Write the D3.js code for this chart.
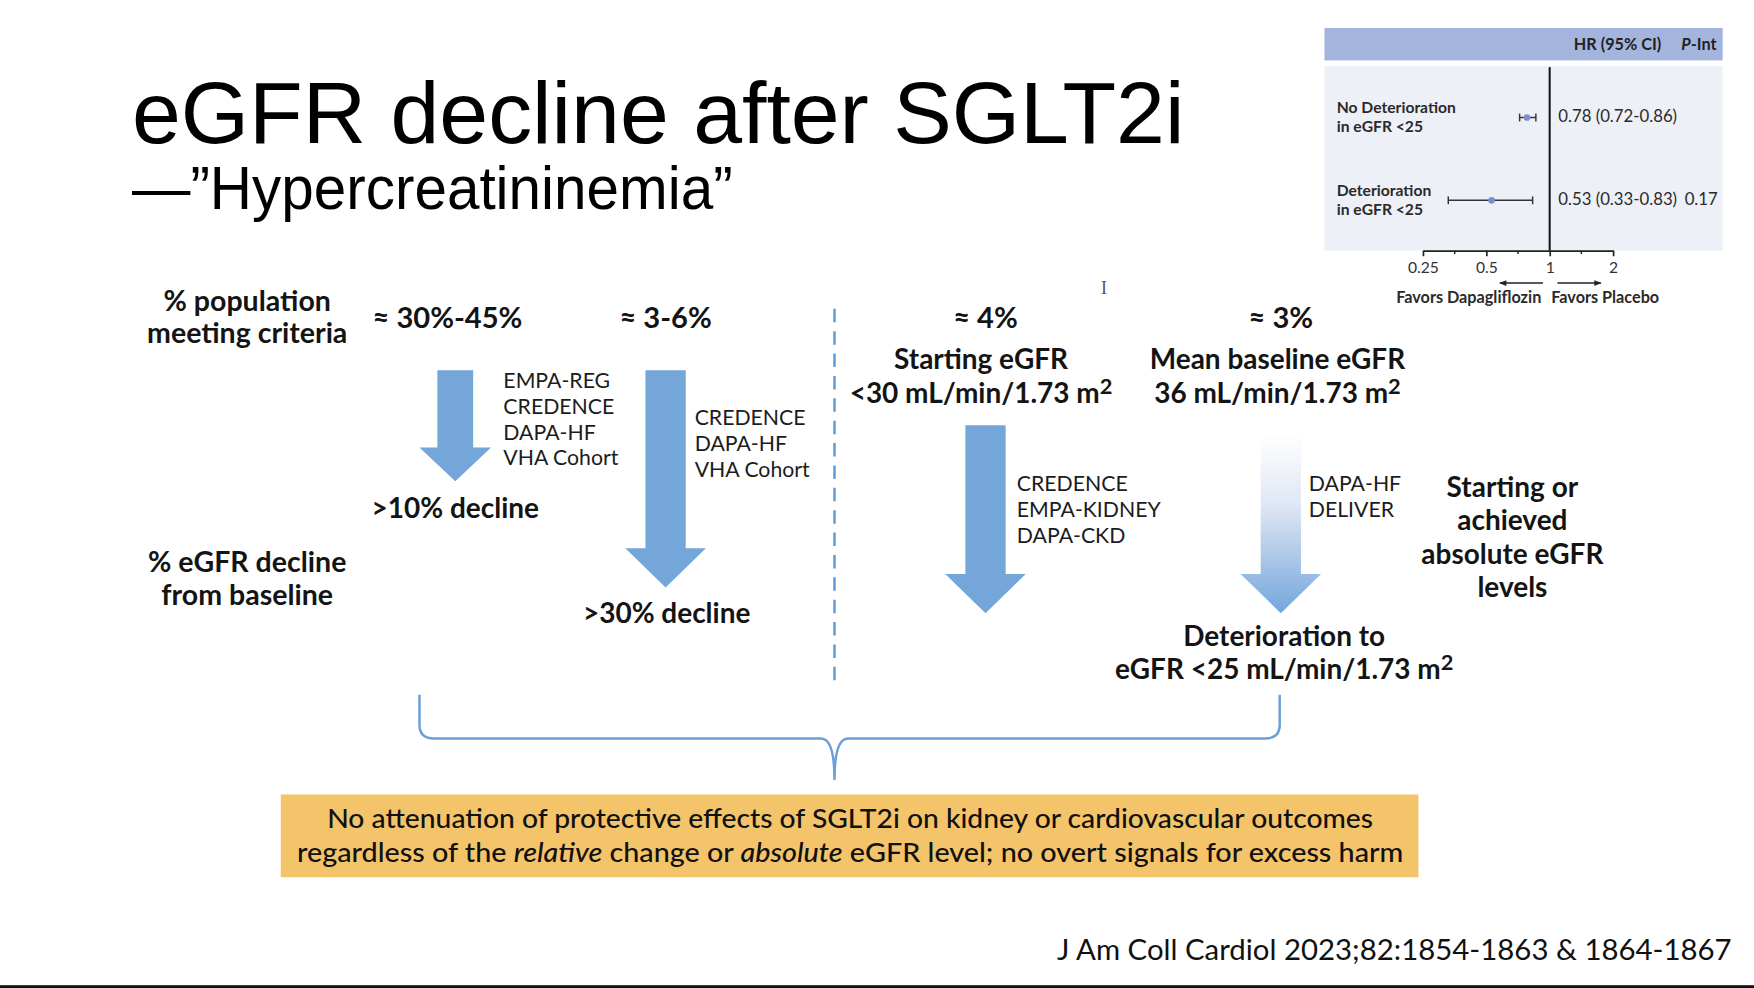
<!DOCTYPE html>
<html>
<head>
<meta charset="utf-8">
<script src="https://cdn.jsdelivr.net/npm/d3@7"></script>
<style>
  html, body { margin: 0; padding: 0; background: #fff; }
  svg { display: block; }
</style>
</head>
<body>
<svg></svg>
<script>
// slide drawn in a 1568x883 frame, scaled up to the window
const W = 1568;
const H = 883;

// ---- data ----
const title = 'eGFR decline after SGLT2i';
const subtitle = '\u2014\u201dHypercreatininemia\u201d';

const rowLabels = [['% population', 'meeting criteria'], ['% eGFR decline', 'from baseline']];
const shares = ['\u2248 30%-45%', '\u2248 3-6%', '\u2248 4%', '\u2248 3%'];
const trials = [
  ['EMPA-REG', 'CREDENCE', 'DAPA-HF', 'VHA Cohort'],
  ['CREDENCE', 'DAPA-HF', 'VHA Cohort'],
  ['CREDENCE', 'EMPA-KIDNEY', 'DAPA-CKD'],
  ['DAPA-HF', 'DELIVER']
];
const declines = ['>10% decline', '>30% decline'];
const startLabels = [['Starting eGFR', '<30 mL/min/1.73 m\u00b2'], ['Mean baseline eGFR', '36 mL/min/1.73 m\u00b2']];
const endLabel = ['Deterioration to', 'eGFR <25 mL/min/1.73 m\u00b2'];
const sideLabel = ['Starting or', 'achieved', 'absolute eGFR', 'levels'];
const citation = 'J Am Coll Cardiol 2023;82:1854-1863 & 1864-1867';

// forest plot inset
const subgroups = [['No Deterioration', 'in eGFR <25'], ['Deterioration', 'in eGFR <25']];
const hr = [0.78, 0.53];
const ciLow = [0.72, 0.33];
const ciHigh = [0.86, 0.83];
const hrText = ['0.78 (0.72-0.86)', '0.53 (0.33-0.83)'];
const pInt = ['', '0.17'];
const hrTicks = [0.25, 0.5, 1, 2];
const hrMinorTicks = [0.354, 0.707, 1.414];

// ---- layout ----
const svg = d3.select('svg')
  .attr('width', 1754)
  .attr('height', 988)
  .attr('viewBox', `0 0 ${W} ${H}`)
  .attr('preserveAspectRatio', 'none');

const SANS = 'Lato, "Open Sans", sans-serif';
const ARIAL = '"Liberation Sans", Arial, sans-serif';
const blue = '#74a6da';
const ink = '#141414';

const defs = svg.append('defs');
const grad = defs.append('linearGradient')
  .attr('id', 'fade').attr('x1', 0).attr('y1', 0).attr('x2', 0).attr('y2', 1);
grad.append('stop').attr('offset', '0%').attr('stop-color', '#ffffff');
grad.append('stop').attr('offset', '40%').attr('stop-color', '#dfe6f5');
grad.append('stop').attr('offset', '100%').attr('stop-color', blue);

// title
svg.append('text')
  .attr('x', 118).attr('y', 128)
  .attr('font-family', ARIAL).attr('font-size', 78.5)
  .attr('fill', '#000')
  .text(title);

svg.append('text')
  .attr('x', 118).attr('y', 187)
  .attr('font-family', ARIAL).attr('font-size', 54)
  .attr('textLength', 537).attr('lengthAdjust', 'spacingAndGlyphs')
  .attr('fill', '#000')
  .text(subtitle);

// multi-line text; a trailing "²" is set as a raised 2
function lines(g, arr, x, y0, step, opts) {
  const t = g.append('text')
    .attr('font-family', SANS)
    .attr('font-size', opts.size)
    .attr('font-weight', opts.weight || 'normal')
    .attr('text-anchor', opts.anchor || 'middle')
    .attr('fill', opts.fill || ink);
  t.selectAll('tspan.line')
    .data(arr)
    .join('tspan')
      .attr('class', 'line')
      .attr('x', x)
      .attr('y', (d, i) => y0 + i * step)
      .each(function(d) {
        const sel = d3.select(this);
        if (d.endsWith('\u00b2')) {
          sel.append('tspan').text(d.slice(0, -1));
          sel.append('tspan')
            .attr('dy', -opts.size * 0.32)
            .attr('font-size', opts.size * 0.78)
            .text('2');
        } else {
          sel.text(d);
        }
      });
  return t;
}

const diagram = svg.append('g');

// row headers
lines(diagram, rowLabels[0], 221, 278, 29, { size: 25.5, weight: 'bold' });
lines(diagram, rowLabels[1], 221, 511, 30, { size: 25.5, weight: 'bold' });

// columns
const colX = [400, 595, 881, 1145];
diagram.selectAll('text.share')
  .data(shares)
  .join('text')
    .attr('class', 'share')
    .attr('x', (d, i) => colX[i])
    .attr('y', 293)
    .attr('text-anchor', 'middle')
    .attr('font-family', SANS).attr('font-size', 26).attr('font-weight', 'bold')
    .attr('fill', ink)
    .text(d => d);

// arrows
const arrowX = [407, 595, 881, 1145];
const arrows = [
  { top: 331, neck: 400, tip: 430, sw: 16, hw: 32, fill: blue },
  { top: 331, neck: 490, tip: 525, sw: 18, hw: 36, fill: blue },
  { top: 380, neck: 513, tip: 548, sw: 18, hw: 36, fill: blue },
  { top: 388, neck: 513, tip: 548, sw: 18, hw: 36, fill: 'url(#fade)' }
];
function arrowPath(cx, a) {
  const p = d3.path();
  p.moveTo(cx - a.sw, a.top);
  p.lineTo(cx + a.sw, a.top);
  p.lineTo(cx + a.sw, a.neck);
  p.lineTo(cx + a.hw, a.neck);
  p.lineTo(cx, a.tip);
  p.lineTo(cx - a.hw, a.neck);
  p.lineTo(cx - a.sw, a.neck);
  p.closePath();
  return p.toString();
}
diagram.selectAll('path.arrow')
  .data(arrows)
  .join('path')
    .attr('class', 'arrow')
    .attr('d', (d, i) => arrowPath(arrowX[i], d))
    .attr('fill', d => d.fill);

// trial names beside arrows
const trialPos = [[450, 347], [621, 380], [909, 439], [1170, 439]];
trials.forEach((names, i) => {
  lines(diagram, names, trialPos[i][0], trialPos[i][1], 23,
    { size: 19, anchor: 'start', fill: '#1c1c1c' });
});

// decline thresholds
lines(diagram, [declines[0]], 407, 463, 0, { size: 25, weight: 'bold' });
lines(diagram, [declines[1]], 596, 557, 0, { size: 25, weight: 'bold' });

// absolute eGFR columns
lines(diagram, startLabels[0], 877, 330, 30, { size: 25, weight: 'bold' });
lines(diagram, startLabels[1], 1142, 330, 30, { size: 25, weight: 'bold' });
lines(diagram, endLabel, 1148, 577, 30, { size: 25, weight: 'bold' });
lines(diagram, sideLabel, 1352, 444, 30, { size: 25, weight: 'bold' });

// dashed divider
diagram.append('line')
  .attr('x1', 746).attr('x2', 746)
  .attr('y1', 276).attr('y2', 614)
  .attr('stroke', '#5b9bd5').attr('stroke-width', 2.2)
  .attr('stroke-dasharray', '12,8');

// brace
diagram.append('path')
  .attr('d', 'M375,621 L375,648 Q375,660 388,660 L734,660 Q746,660 746,697 Q746,660 758,660 L1131,660 Q1144,660 1144,648 L1144,621')
  .attr('fill', 'none')
  .attr('stroke', '#6a9fd8').attr('stroke-width', 2.2);

// conclusion box
diagram.append('rect')
  .attr('x', 251).attr('y', 710)
  .attr('width', 1017).attr('height', 74)
  .attr('fill', '#f4c46b');

diagram.append('text')
  .attr('x', 760).attr('y', 740)
  .attr('text-anchor', 'middle')
  .attr('font-family', SANS).attr('font-size', 24).attr('font-weight', 500)
  .attr('textLength', 935).attr('lengthAdjust', 'spacingAndGlyphs')
  .attr('fill', '#111')
  .text('No attenuation of protective effects of SGLT2i on kidney or cardiovascular outcomes');

const line2 = diagram.append('text')
  .attr('x', 760).attr('y', 770)
  .attr('text-anchor', 'middle')
  .attr('font-family', SANS).attr('font-size', 24).attr('font-weight', 500)
  .attr('textLength', 989).attr('lengthAdjust', 'spacingAndGlyphs')
  .attr('fill', '#111');
[['regardless of the ', 'normal'], ['relative', 'italic'], [' change or ', 'normal'],
 ['absolute', 'italic'], [' eGFR level; no overt signals for excess harm', 'normal']]
  .forEach(([s, st]) => line2.append('tspan').attr('font-style', st).text(s));

// citation
svg.append('text')
  .attr('x', 1548).attr('y', 858)
  .attr('text-anchor', 'end')
  .attr('font-family', SANS).attr('font-size', 25)
  .attr('textLength', 603).attr('lengthAdjust', 'spacingAndGlyphs')
  .attr('fill', '#111')
  .text(citation);

// text cursor left in the screenshot
svg.append('text')
  .attr('x', 987).attr('y', 263)
  .attr('text-anchor', 'middle')
  .attr('font-family', '"Liberation Serif", serif').attr('font-size', 16)
  .attr('fill', '#555')
  .text('I');

// bottom edge
svg.append('rect')
  .attr('x', 0).attr('y', 880.5).attr('width', W).attr('height', 3)
  .attr('fill', '#111');

// ---- forest plot ----
const fp = svg.append('g').attr('font-family', SANS);
const x = d3.scaleLog().base(2).domain([0.25, 2]).range([1272, 1442]);
const y = d3.scalePoint().domain(d3.range(hr.length)).range([105, 179]);

fp.append('rect').attr('x', 1184).attr('y', 25).attr('width', 356).attr('height', 29).attr('fill', '#a4b5dd');
fp.append('rect').attr('x', 1184).attr('y', 59).attr('width', 356).attr('height', 165).attr('fill', '#eef0f7');

fp.append('text')
  .attr('x', 1446).attr('y', 45).attr('text-anchor', 'middle')
  .attr('font-size', 14.5).attr('font-weight', 'bold').attr('fill', '#222')
  .text('HR (95% CI)');
const pHead = fp.append('text')
  .attr('x', 1503).attr('y', 45)
  .attr('font-size', 14.5).attr('font-weight', 'bold').attr('fill', '#222');
pHead.append('tspan').attr('font-style', 'italic').text('P');
pHead.append('tspan').text('-Int');

subgroups.forEach((lab, i) => {
  lines(fp, lab, 1195, y(i) - 4, 17, { size: 14, weight: 'bold', anchor: 'start', fill: '#2a2a2a' });
});

// reference line at HR = 1
fp.append('line')
  .attr('x1', x(1)).attr('x2', x(1))
  .attr('y1', 60).attr('y2', 224)
  .attr('stroke', '#111').attr('stroke-width', 1.8);

const rows = fp.selectAll('g.row')
  .data(hr.map((v, i) => ({ v, lo: ciLow[i], hi: ciHigh[i], i })))
  .join('g').attr('class', 'row');
rows.append('line')
  .attr('x1', d => x(d.lo)).attr('x2', d => x(d.hi))
  .attr('y1', d => y(d.i)).attr('y2', d => y(d.i))
  .attr('stroke', '#333').attr('stroke-width', 1.3);
rows.selectAll('line.cap')
  .data(d => [d.lo, d.hi].map(c => ({ c, i: d.i })))
  .join('line').attr('class', 'cap')
    .attr('x1', d => x(d.c)).attr('x2', d => x(d.c))
    .attr('y1', d => y(d.i) - 3.5).attr('y2', d => y(d.i) + 3.5)
    .attr('stroke', '#333').attr('stroke-width', 1.3);
rows.append('circle')
  .attr('cx', d => x(d.v)).attr('cy', d => y(d.i))
  .attr('r', 3)
  .attr('fill', '#7b8fcf');

fp.selectAll('text.hr')
  .data(hrText)
  .join('text').attr('class', 'hr')
    .attr('x', 1393).attr('y', (d, i) => y(i) + 4)
    .attr('font-size', 15).attr('fill', '#2a2a2a')
    .text(d => d);
fp.selectAll('text.p')
  .data(pInt)
  .join('text').attr('class', 'p')
    .attr('x', 1506).attr('y', (d, i) => y(i) + 4)
    .attr('font-size', 15).attr('fill', '#2a2a2a')
    .text(d => d);

const axis = fp.append('g')
  .attr('transform', 'translate(0,224)')
  .call(d3.axisBottom(x).tickValues(hrTicks).tickSize(5).tickSizeOuter(0).tickFormat(d => String(d)));
axis.select('.domain').attr('stroke', '#222').attr('stroke-width', 1.5);
axis.selectAll('.tick line').attr('stroke', '#222').attr('stroke-width', 1.5);
axis.selectAll('.tick text')
  .attr('font-family', SANS).attr('font-size', 14).attr('fill', '#333')
  .attr('y', 10).attr('dy', '0.71em');
axis.selectAll('line.minor')
  .data(hrMinorTicks)
  .join('line').attr('class', 'minor')
    .attr('x1', d => x(d)).attr('x2', d => x(d))
    .attr('y1', 0).attr('y2', 3)
    .attr('stroke', '#222').attr('stroke-width', 1.3);

// direction arrows
const marker = defs.append('marker')
  .attr('id', 'head').attr('viewBox', '0 0 10 10')
  .attr('refX', 9).attr('refY', 5)
  .attr('markerWidth', 6).attr('markerHeight', 5)
  .attr('orient', 'auto-start-reverse');
marker.append('path').attr('d', 'M0,1 L10,5 L0,9 Z').attr('fill', '#222');
fp.append('line')
  .attr('x1', x(1) - 6).attr('x2', x(0.58)).attr('y1', 253).attr('y2', 253)
  .attr('stroke', '#222').attr('stroke-width', 1.3).attr('marker-end', 'url(#head)');
fp.append('line')
  .attr('x1', x(1) + 7).attr('x2', x(1.75)).attr('y1', 253).attr('y2', 253)
  .attr('stroke', '#222').attr('stroke-width', 1.3).attr('marker-end', 'url(#head)');
fp.append('text')
  .attr('x', 1313).attr('y', 271).attr('text-anchor', 'middle')
  .attr('font-size', 14.5).attr('font-weight', 'bold').attr('fill', '#2a2a2a')
  .text('Favors Dapagliflozin');
fp.append('text')
  .attr('x', 1435).attr('y', 271).attr('text-anchor', 'middle')
  .attr('font-size', 14.5).attr('font-weight', 'bold').attr('fill', '#2a2a2a')
  .text('Favors Placebo');
</script>
</body>
</html>
